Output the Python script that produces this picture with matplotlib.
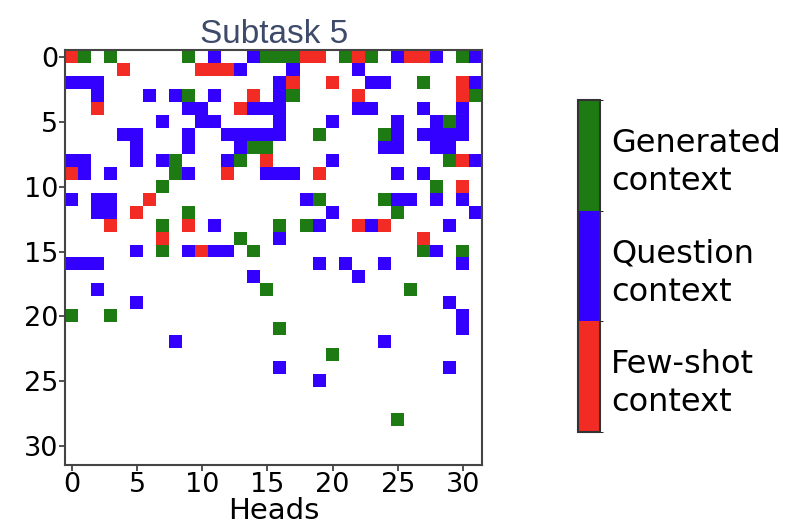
import numpy as np
import matplotlib
matplotlib.use("Agg")
from matplotlib import pyplot as plt
from matplotlib.colors import ListedColormap, BoundaryNorm

# one string per layer (row), one char per head: . none, F few-shot, Q question, G generated
rows = [
    "FG.G.... .G.Q..QG GGFF.GFG .QFFQ.GQ",
    "....F... ..FFFQ.. .Q....Q. ........",
    "QQQ..... ........ QF..F..Q Q..G..FQ",
    "..Q...Q. QG.Q..F. QG....F. ......FG",
    "..F..... .QQ..FQQ Q.....QQ ...Q..Q.",
    ".......Q ..QQ.... Q...Q... .Q..QGQ.",
    "....QQ.. .Q..QQQQ Q..G.... GQ.QQQQ.",
    ".....Q.. .Q...QGG ........ QQ..QQ..",
    "QQ...Q.Q G...QG.F ....Q... .....GFQ",
    "FQ.Q.... GQ..F..Q QQ.F.... .Q.Q....",
    ".......G ........ ........ ....G.F.",
    "Q.QQ..F. ........ ..QG.... GQQ.Q.Q.",
    "..QQ.F.. .G...... ....Q... .G.....Q",
    "...F...G .F.Q.... G.GQ..FQ F....Q..",
    ".......F .....G.. Q....... ...F....",
    ".....Q.G .QFQQ.G. ........ ...GQ.G.",
    "QQQ..... ........ ...Q.Q.. Q.....Q.",
    "........ ......Q. ......Q. ........",
    "..Q..... .......G ........ ..G.....",
    ".....Q.. ........ ........ .....Q..",
    "G..G.... ........ ........ ......Q.",
    "........ ........ G....... ......Q.",
    "........ Q....... ........ Q.......",
    "........ ........ ....G... ........",
    "........ ........ Q....... .....Q..",
    "........ ........ ...Q.... ........",
    "........ ........ ........ ........",
    "........ ........ ........ ........",
    "........ ........ ........ .G......",
    "........ ........ ........ ........",
    "........ ........ ........ ........",
    "........ ........ ........ ........",
]
codes = {".": 0, "F": 1, "Q": 2, "G": 3}
labels = ["Few-shot\ncontext", "Question\ncontext", "Generated\ncontext"]
colors = ["#f22b24", "#3300ff", "#1e7b14"]
ticks = [0, 5, 10, 15, 20, 25, 30]

grid = np.array([[codes[c] for c in r.replace(" ", "")] for r in rows])
data = np.ma.masked_equal(grid, 0)

cmap = ListedColormap(colors)
cmap.set_bad("white")
norm = BoundaryNorm([0.5, 1.5, 2.5, 3.5], cmap.N)

fig = plt.figure(figsize=(7.89, 5.31), dpi=100)
ax = fig.add_axes([0.083, 0.1234, 0.5285, 0.7815])
im = ax.imshow(data, cmap=cmap, norm=norm, aspect="auto", interpolation="nearest")

ax.set_xticks(ticks)
ax.set_yticks(ticks)
ax.tick_params(labelsize=19.5, length=4, width=1.2, color="#333333", pad=1)
for s in ax.spines.values():
    s.set_color("#444444")
    s.set_linewidth(1.5)
ax.set_xlabel("Heads", fontsize=21, labelpad=-1)
ax.set_title("Subtask 5", fontsize=24, color="#3e4a6a", pad=4,
             family=["Liberation Sans", "DejaVu Sans"])

cax = fig.add_axes([0.7326, 0.1864, 0.0279, 0.625])
cb = fig.colorbar(im, cax=cax, ticks=[1, 2, 3])
cb.ax.set_yticklabels(labels, fontsize=23, linespacing=1.3)
cb.ax.tick_params(length=0, pad=8)
cb.outline.set_linewidth(1.5)
cb.outline.set_edgecolor("#333333")

fig.savefig("out.png", dpi=100)
